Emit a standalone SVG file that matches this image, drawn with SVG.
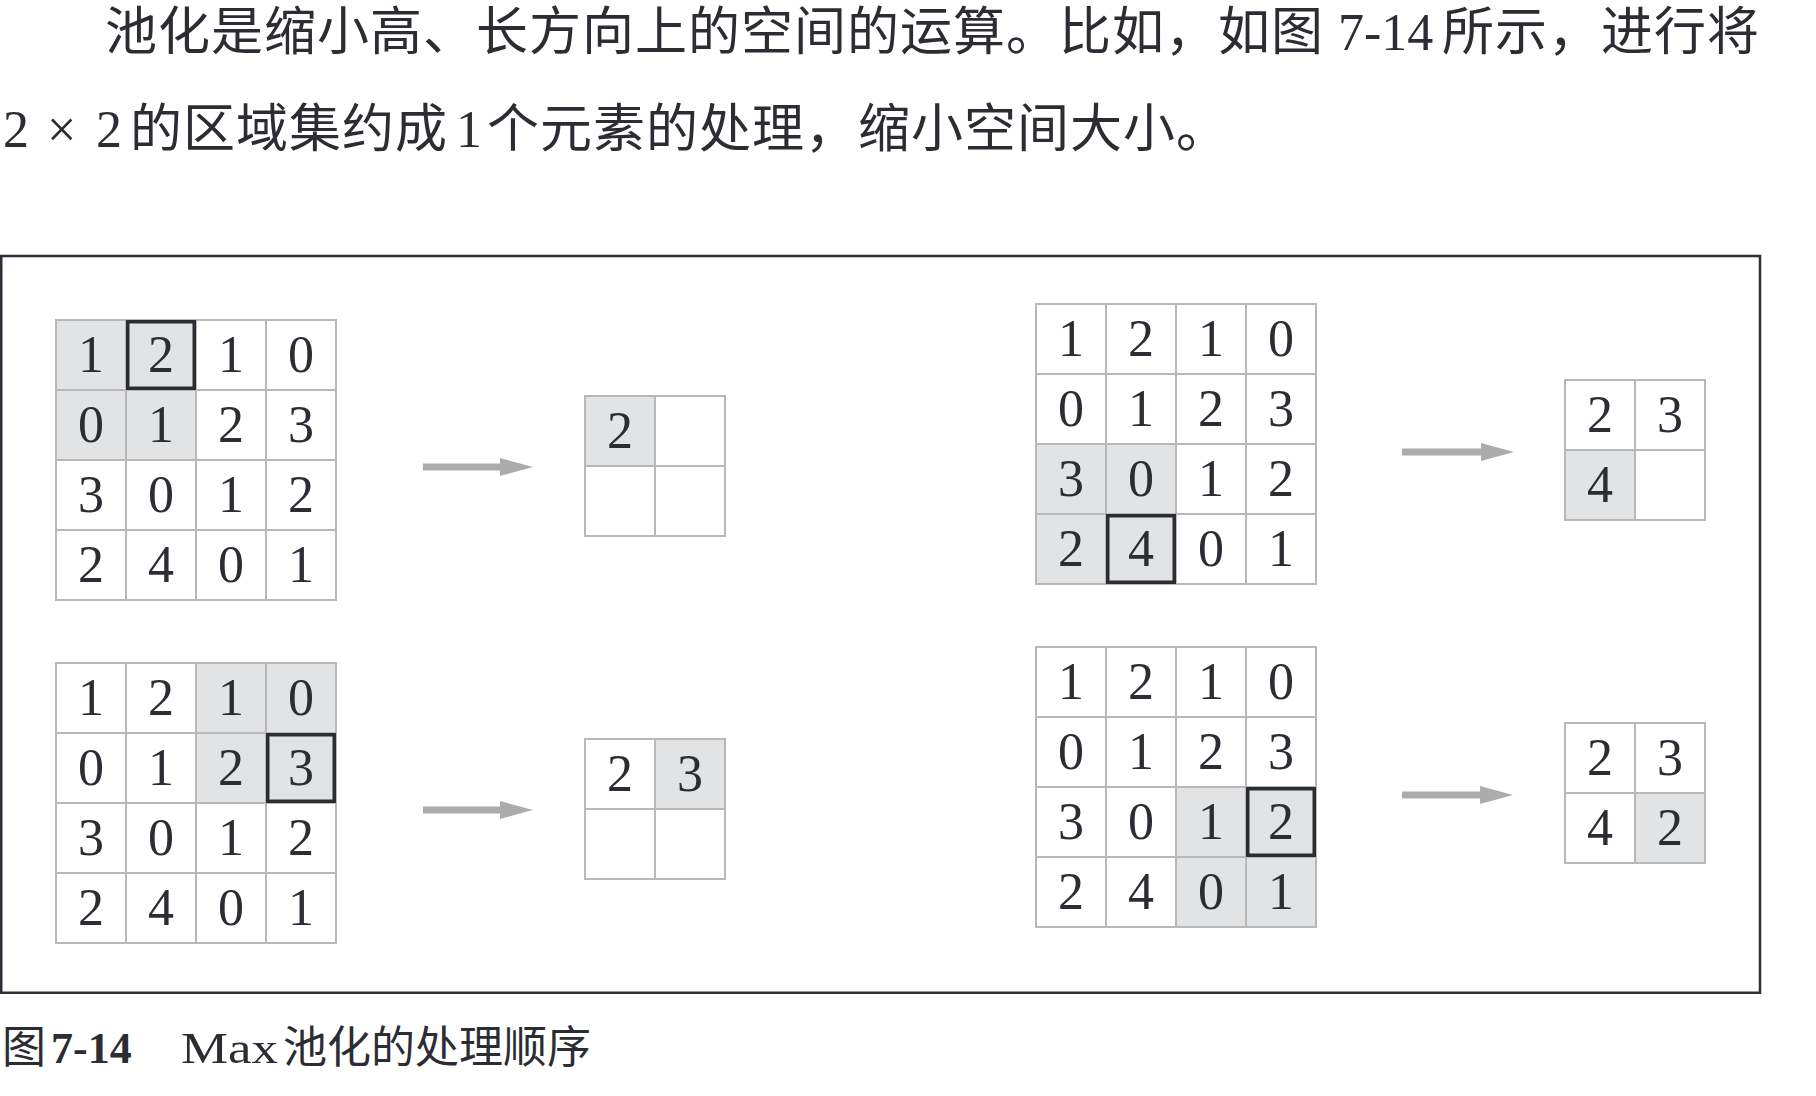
<svg xmlns="http://www.w3.org/2000/svg" width="1816" height="1096" viewBox="0 0 1816 1096">
<style>
.bg{fill:#ffffff}
.c{fill:#ffffff;stroke:#b8b8b8;stroke-width:2}
.h{fill:#e2e3e5;stroke:#b8b8b8;stroke-width:2}
.k{fill:none;stroke:#2b2d33;stroke-width:3.5}
.n{font-family:"Liberation Serif","DejaVu Serif",serif;font-size:52px;fill:#2b2d33;text-anchor:middle}
.p{font-family:"Noto Sans CJK SC","Noto Sans",sans-serif;font-size:52px;fill:#2b2d33;letter-spacing:1px}
.ps{font-family:"Liberation Serif","DejaVu Serif",serif;font-size:52px;letter-spacing:0}
.cap{font-family:"Noto Sans CJK SC","Noto Sans",sans-serif;font-size:44px;fill:#2b2d33}
.caps{font-family:"Liberation Serif","DejaVu Serif",serif}
.frame{fill:none;stroke:#2c2f36;stroke-width:2.5}
.arr{fill:#abacae}
</style>
<rect class="bg" x="0" y="0" width="1816" height="1096"/>

<g id="paragraph">
<text class="p" y="50"><tspan x="105">池化是缩小高、长方向上的空间的运算。比如，如图</tspan><tspan class="ps" x="1338">7-14</tspan><tspan x="1442">所示，进行将</tspan></text>
<text class="p" y="147"><tspan class="ps" x="3">2</tspan><tspan class="ps" x="47">×</tspan><tspan class="ps" x="96">2</tspan><tspan x="130">的区域集约成</tspan><tspan class="ps" x="456">1</tspan><tspan x="487">个元素的处理，缩小空间大小。</tspan></text>
</g>

<g id="frame">
<rect class="frame" x="1.25" y="256" width="1758.75" height="736.75"/>
</g>

<g id="grid-1" transform="translate(56,320)">
<rect class="h" x="0" y="0" width="70" height="70"/><rect class="h" x="70" y="0" width="70" height="70"/><rect class="c" x="140" y="0" width="70" height="70"/><rect class="c" x="210" y="0" width="70" height="70"/>
<rect class="h" x="0" y="70" width="70" height="70"/><rect class="h" x="70" y="70" width="70" height="70"/><rect class="c" x="140" y="70" width="70" height="70"/><rect class="c" x="210" y="70" width="70" height="70"/>
<rect class="c" x="0" y="140" width="70" height="70"/><rect class="c" x="70" y="140" width="70" height="70"/><rect class="c" x="140" y="140" width="70" height="70"/><rect class="c" x="210" y="140" width="70" height="70"/>
<rect class="c" x="0" y="210" width="70" height="70"/><rect class="c" x="70" y="210" width="70" height="70"/><rect class="c" x="140" y="210" width="70" height="70"/><rect class="c" x="210" y="210" width="70" height="70"/>
<rect class="k" x="71.75" y="1.75" width="66.5" height="66.5"/>
<text class="n" x="35" y="52">1</text><text class="n" x="105" y="52">2</text><text class="n" x="175" y="52">1</text><text class="n" x="245" y="52">0</text>
<text class="n" x="35" y="122">0</text><text class="n" x="105" y="122">1</text><text class="n" x="175" y="122">2</text><text class="n" x="245" y="122">3</text>
<text class="n" x="35" y="192">3</text><text class="n" x="105" y="192">0</text><text class="n" x="175" y="192">1</text><text class="n" x="245" y="192">2</text>
<text class="n" x="35" y="262">2</text><text class="n" x="105" y="262">4</text><text class="n" x="175" y="262">0</text><text class="n" x="245" y="262">1</text>
</g>

<g id="out-1" transform="translate(585,396)">
<rect class="h" x="0" y="0" width="70" height="70"/><rect class="c" x="70" y="0" width="70" height="70"/>
<rect class="c" x="0" y="70" width="70" height="70"/><rect class="c" x="70" y="70" width="70" height="70"/>
<text class="n" x="35" y="52">2</text>
</g>

<g id="grid-2" transform="translate(56,663)">
<rect class="c" x="0" y="0" width="70" height="70"/><rect class="c" x="70" y="0" width="70" height="70"/><rect class="h" x="140" y="0" width="70" height="70"/><rect class="h" x="210" y="0" width="70" height="70"/>
<rect class="c" x="0" y="70" width="70" height="70"/><rect class="c" x="70" y="70" width="70" height="70"/><rect class="h" x="140" y="70" width="70" height="70"/><rect class="h" x="210" y="70" width="70" height="70"/>
<rect class="c" x="0" y="140" width="70" height="70"/><rect class="c" x="70" y="140" width="70" height="70"/><rect class="c" x="140" y="140" width="70" height="70"/><rect class="c" x="210" y="140" width="70" height="70"/>
<rect class="c" x="0" y="210" width="70" height="70"/><rect class="c" x="70" y="210" width="70" height="70"/><rect class="c" x="140" y="210" width="70" height="70"/><rect class="c" x="210" y="210" width="70" height="70"/>
<rect class="k" x="211.75" y="71.75" width="66.5" height="66.5"/>
<text class="n" x="35" y="52">1</text><text class="n" x="105" y="52">2</text><text class="n" x="175" y="52">1</text><text class="n" x="245" y="52">0</text>
<text class="n" x="35" y="122">0</text><text class="n" x="105" y="122">1</text><text class="n" x="175" y="122">2</text><text class="n" x="245" y="122">3</text>
<text class="n" x="35" y="192">3</text><text class="n" x="105" y="192">0</text><text class="n" x="175" y="192">1</text><text class="n" x="245" y="192">2</text>
<text class="n" x="35" y="262">2</text><text class="n" x="105" y="262">4</text><text class="n" x="175" y="262">0</text><text class="n" x="245" y="262">1</text>
</g>

<g id="out-2" transform="translate(585,739)">
<rect class="c" x="0" y="0" width="70" height="70"/><rect class="h" x="70" y="0" width="70" height="70"/>
<rect class="c" x="0" y="70" width="70" height="70"/><rect class="c" x="70" y="70" width="70" height="70"/>
<text class="n" x="35" y="52">2</text><text class="n" x="105" y="52">3</text>
</g>

<g id="grid-3" transform="translate(1036,304)">
<rect class="c" x="0" y="0" width="70" height="70"/><rect class="c" x="70" y="0" width="70" height="70"/><rect class="c" x="140" y="0" width="70" height="70"/><rect class="c" x="210" y="0" width="70" height="70"/>
<rect class="c" x="0" y="70" width="70" height="70"/><rect class="c" x="70" y="70" width="70" height="70"/><rect class="c" x="140" y="70" width="70" height="70"/><rect class="c" x="210" y="70" width="70" height="70"/>
<rect class="h" x="0" y="140" width="70" height="70"/><rect class="h" x="70" y="140" width="70" height="70"/><rect class="c" x="140" y="140" width="70" height="70"/><rect class="c" x="210" y="140" width="70" height="70"/>
<rect class="h" x="0" y="210" width="70" height="70"/><rect class="h" x="70" y="210" width="70" height="70"/><rect class="c" x="140" y="210" width="70" height="70"/><rect class="c" x="210" y="210" width="70" height="70"/>
<rect class="k" x="71.75" y="211.75" width="66.5" height="66.5"/>
<text class="n" x="35" y="52">1</text><text class="n" x="105" y="52">2</text><text class="n" x="175" y="52">1</text><text class="n" x="245" y="52">0</text>
<text class="n" x="35" y="122">0</text><text class="n" x="105" y="122">1</text><text class="n" x="175" y="122">2</text><text class="n" x="245" y="122">3</text>
<text class="n" x="35" y="192">3</text><text class="n" x="105" y="192">0</text><text class="n" x="175" y="192">1</text><text class="n" x="245" y="192">2</text>
<text class="n" x="35" y="262">2</text><text class="n" x="105" y="262">4</text><text class="n" x="175" y="262">0</text><text class="n" x="245" y="262">1</text>
</g>

<g id="out-3" transform="translate(1565,380)">
<rect class="c" x="0" y="0" width="70" height="70"/><rect class="c" x="70" y="0" width="70" height="70"/>
<rect class="h" x="0" y="70" width="70" height="70"/><rect class="c" x="70" y="70" width="70" height="70"/>
<text class="n" x="35" y="52">2</text><text class="n" x="105" y="52">3</text>
<text class="n" x="35" y="122">4</text>
</g>

<g id="grid-4" transform="translate(1036,647)">
<rect class="c" x="0" y="0" width="70" height="70"/><rect class="c" x="70" y="0" width="70" height="70"/><rect class="c" x="140" y="0" width="70" height="70"/><rect class="c" x="210" y="0" width="70" height="70"/>
<rect class="c" x="0" y="70" width="70" height="70"/><rect class="c" x="70" y="70" width="70" height="70"/><rect class="c" x="140" y="70" width="70" height="70"/><rect class="c" x="210" y="70" width="70" height="70"/>
<rect class="c" x="0" y="140" width="70" height="70"/><rect class="c" x="70" y="140" width="70" height="70"/><rect class="h" x="140" y="140" width="70" height="70"/><rect class="h" x="210" y="140" width="70" height="70"/>
<rect class="c" x="0" y="210" width="70" height="70"/><rect class="c" x="70" y="210" width="70" height="70"/><rect class="h" x="140" y="210" width="70" height="70"/><rect class="h" x="210" y="210" width="70" height="70"/>
<rect class="k" x="211.75" y="141.75" width="66.5" height="66.5"/>
<text class="n" x="35" y="52">1</text><text class="n" x="105" y="52">2</text><text class="n" x="175" y="52">1</text><text class="n" x="245" y="52">0</text>
<text class="n" x="35" y="122">0</text><text class="n" x="105" y="122">1</text><text class="n" x="175" y="122">2</text><text class="n" x="245" y="122">3</text>
<text class="n" x="35" y="192">3</text><text class="n" x="105" y="192">0</text><text class="n" x="175" y="192">1</text><text class="n" x="245" y="192">2</text>
<text class="n" x="35" y="262">2</text><text class="n" x="105" y="262">4</text><text class="n" x="175" y="262">0</text><text class="n" x="245" y="262">1</text>
</g>

<g id="out-4" transform="translate(1565,723)">
<rect class="c" x="0" y="0" width="70" height="70"/><rect class="c" x="70" y="0" width="70" height="70"/>
<rect class="c" x="0" y="70" width="70" height="70"/><rect class="h" x="70" y="70" width="70" height="70"/>
<text class="n" x="35" y="52">2</text><text class="n" x="105" y="52">3</text>
<text class="n" x="35" y="122">4</text><text class="n" x="105" y="122">2</text>
</g>

<g id="connectors">
<path class="arr" d="M423,463.5 H500 V458 L533,467 L500,476 V470.5 H423 Z"/>
<path class="arr" d="M423,806.5 H500 V801 L533,810 L500,819 V813.5 H423 Z"/>
<path class="arr" d="M1402,448.5 H1481 V443 L1514,452 L1481,461 V455.5 H1402 Z"/>
<path class="arr" d="M1402,791.5 H1480 V786 L1513,795 L1480,804 V798.5 H1402 Z"/>
</g>

<g id="caption">
<text class="cap" y="1063"><tspan x="2">图</tspan><tspan class="caps" x="51" font-weight="bold">7-14</tspan><tspan class="caps" x="181" textLength="97" lengthAdjust="spacingAndGlyphs">Max</tspan><tspan x="283">池化的处理顺序</tspan></text>
</g>
</svg>
